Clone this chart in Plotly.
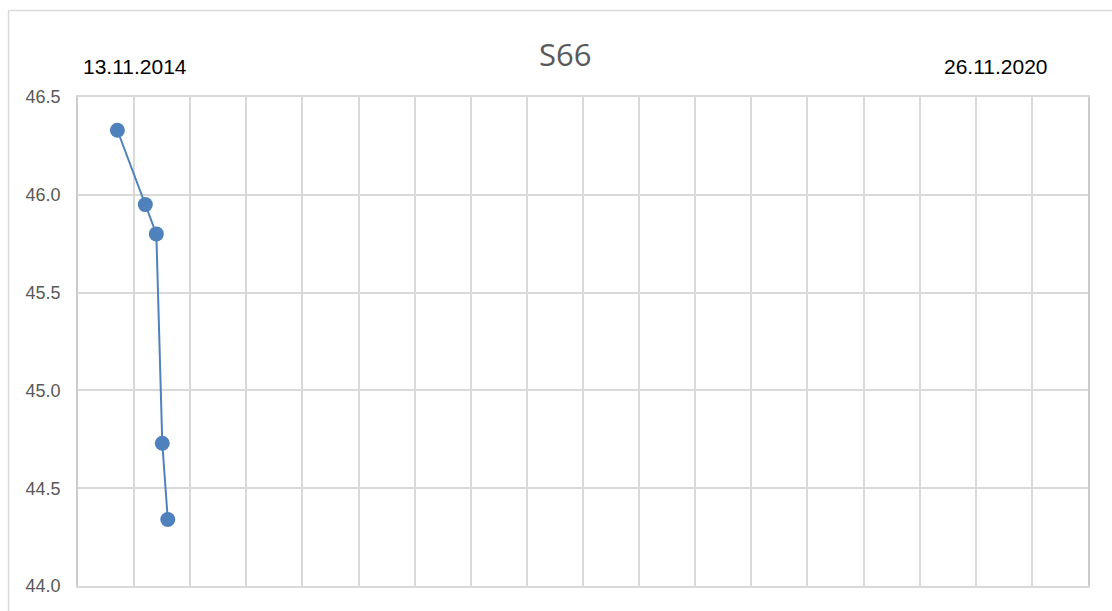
import plotly.graph_objects as go

# Measurement series for well S66
dates = ["2015-02-07", "2015-04-09", "2015-05-03", "2015-05-16", "2015-05-28"]
levels = [46.33, 45.95, 45.80, 44.73, 44.34]

start_label = "13.11.2014"
end_label = "26.11.2020"
x_start = "2014-11-13"
x_end = "2020-11-26"
y_ticks = [44.0, 44.5, 45.0, 45.5, 46.0, 46.5]
title_text = "S66"

W, H = 1112, 611
L, R, T, B = 78, 24, 97, 25
plot_w = W - L - R
plot_h = H - T - B

def px_x(px):
    return (px - L) / plot_w

def px_y(py):
    return (H - B - py) / plot_h

grid = "#d9d9d9"
blue = "#4f81bd"

fig = go.Figure()
fig.add_trace(go.Scatter(
    x=dates, y=levels, mode="lines+markers",
    line=dict(color=blue, width=2),
    marker=dict(color=blue, size=15),
    showlegend=False,
))

# 18 equal gridline intervals across the date span
span_days = 2205
dtick_ms = span_days / 18 * 86400000

fig.update_xaxes(
    type="date", range=[x_start, x_end],
    tick0=x_start, dtick=dtick_ms,
    showticklabels=False, ticks="",
    showgrid=True, gridcolor=grid, gridwidth=1.6,
    showline=True, linecolor=grid, linewidth=1.6, mirror=True,
    zeroline=False,
)
fig.update_yaxes(
    range=[44.0, 46.5], tickvals=y_ticks,
    ticktext=[f"{v:.1f}" for v in y_ticks],
    showgrid=True, gridcolor=grid, gridwidth=1.6,
    showline=True, linecolor="#cccccc", linewidth=1.6, mirror=True,
    zeroline=False, ticks="", ticklabelstandoff=12,
    tickfont=dict(family="Liberation Sans Narrow, Arial Narrow, sans-serif", size=18, color="#595959"),
)

annotations = [
    dict(text=title_text, x=px_x(565), y=px_y(54), xref="paper", yref="paper",
         showarrow=False, xanchor="center", yanchor="middle",
         font=dict(family="Open Sans, sans-serif", size=31, color="#595959")),
    dict(text=start_label, x=px_x(135), y=px_y(66), xref="paper", yref="paper",
         showarrow=False, xanchor="center", yanchor="middle",
         font=dict(family="Liberation Sans, Arial, sans-serif", size=21, color="#000000")),
    dict(text=end_label, x=px_x(996), y=px_y(66), xref="paper", yref="paper",
         showarrow=False, xanchor="center", yanchor="middle",
         font=dict(family="Liberation Sans, Arial, sans-serif", size=21, color="#000000")),
]

# Outer chart-area border (left and top edges)
shapes = [
    dict(type="line", xref="paper", yref="paper",
         x0=px_x(8.5), x1=px_x(8.5), y0=px_y(10.5), y1=px_y(H + 5),
         line=dict(color=grid, width=1.5)),
    dict(type="line", xref="paper", yref="paper",
         x0=px_x(8.5), x1=px_x(W + 5), y0=px_y(10.5), y1=px_y(10.5),
         line=dict(color=grid, width=1.5)),
]

fig.update_layout(
    width=W, height=H,
    margin=dict(l=L, r=R, t=T, b=B),
    paper_bgcolor="white", plot_bgcolor="white",
    annotations=annotations, shapes=shapes,
)

fig.write_html("out.html")
